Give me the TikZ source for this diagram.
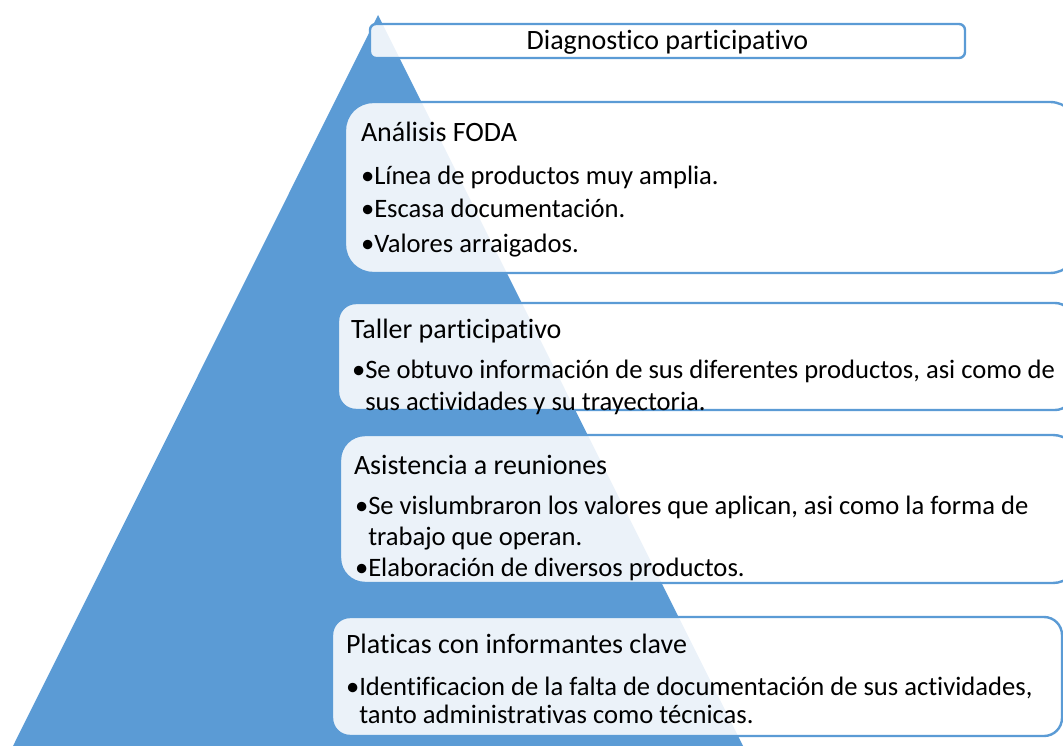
\documentclass[tikz,border=0pt]{standalone}
\usepackage{fontspec}
\setmainfont{Carlito}[Ligatures=NoCommon]
\definecolor{pyrblue}{HTML}{5B9BD5}
\tikzset{
  px/.style={x=1pt,y=-1pt},
  listbox/.style={draw=pyrblue,line width=2.4pt,fill=white,fill opacity=0.88,draw opacity=1},
  txt/.style={anchor=base west,inner sep=0pt,outer sep=0pt,text=black,font=\fontsize{26.6}{30}\selectfont},
  ttl/.style={txt,font=\fontsize{28}{32}\selectfont},
}
\begin{document}
\begin{tikzpicture}[px]
\useasboundingbox (0,0) rectangle (1063,746);
\clip (0,0) rectangle (1063,746);
% pyramid
\fill[pyrblue] (378,15) -- (13,746) -- (743,746) -- cycle;
% boxes
\draw[listbox,rounded corners=6pt] (370,24) rectangle (965,58);
\draw[listbox,rounded corners=28pt] (345,102) rectangle (1078,273);
\draw[listbox,rounded corners=18pt] (338,303) rectangle (1073,410);
\draw[listbox,rounded corners=25pt] (340,435) rectangle (1078,583);
\draw[listbox,rounded corners=18pt] (332,617) rectangle (1062,736);
% texts
\node[ttl,anchor=base] (t0) at (667.5,50) {Diagnostico participativo};
\node[ttl] (a0) at (361,142) {Análisis FODA};
\node[txt] (a1) at (361,185) {•Línea de productos muy amplia.};
\node[txt] (a2) at (361,218) {•Escasa documentación.};
\node[txt] (a3) at (361,252) {•Valores arraigados.};
\node[ttl] (b0) at (351,338) {Taller participativo};
\node[txt] (b1) at (352,378) {•Se obtuvo información de sus diferentes productos, asi como de};
\node[txt] (b2) at (352,410) {\hphantom{•}sus actividades y su trayectoria.};
\node[ttl] (c0) at (354,474) {Asistencia a reuniones};
\node[txt] (c1) at (355,514) {•Se vislumbraron los valores que aplican, asi como la forma de};
\node[txt] (c2) at (355,545) {\hphantom{•}trabajo que operan.};
\node[txt] (c3) at (355,576) {•Elaboración de diversos productos.};
\node[ttl] (d0) at (346,653) {Platicas con informantes clave};
\node[txt] (d1) at (346,695) {•Identificacion de la falta de documentación de sus actividades,};
\node[txt] (d2) at (346,723) {\hphantom{•}tanto administrativas como técnicas.};
\end{tikzpicture}
\end{document}
